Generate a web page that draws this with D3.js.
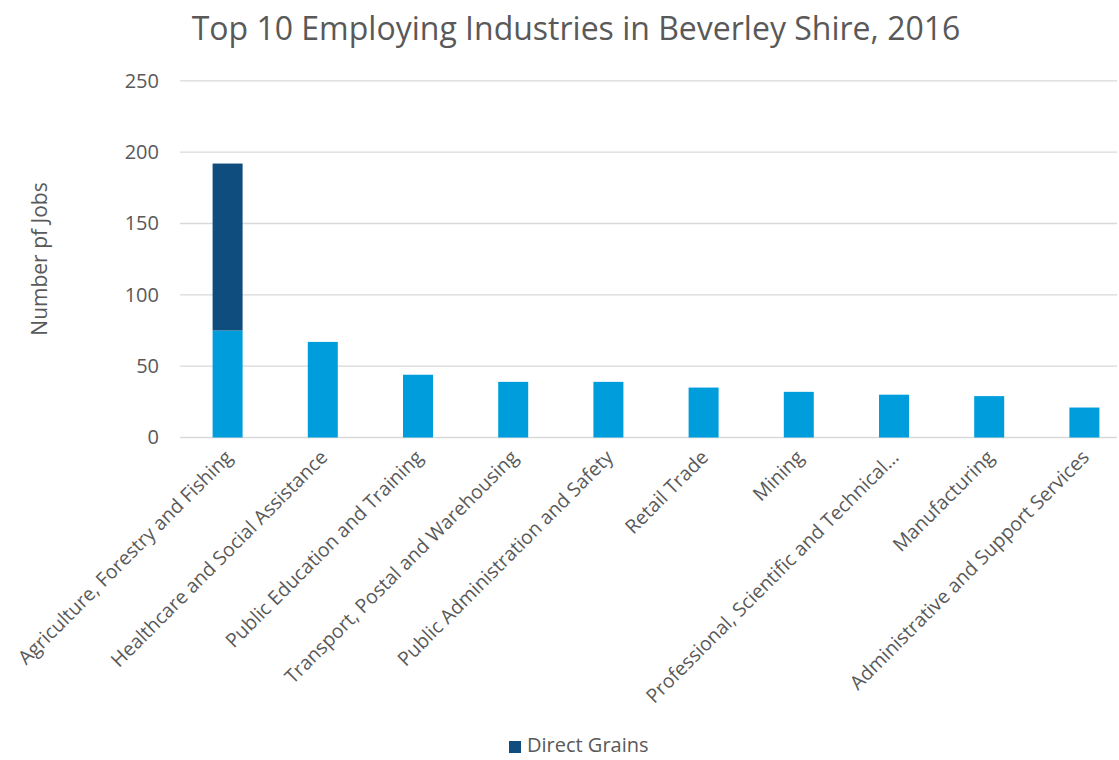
<!DOCTYPE html>
<html>
<head>
<meta charset="utf-8">
<script src="https://cdn.jsdelivr.net/npm/d3@7"></script>
<style>
  html, body { margin: 0; padding: 0; background: #fff; }
  svg { display: block; font-family: "Open Sans", "Noto Sans", sans-serif; }
</style>
</head>
<body>
<svg id="chart" width="1119" height="760"></svg>
<script>
// Industries, ordered by total employment
const industries = [
  "Agriculture, Forestry and Fishing",
  "Healthcare and Social Assistance",
  "Public Education and Training",
  "Transport, Postal and Warehousing",
  "Public Administration and Safety",
  "Retail Trade",
  "Mining",
  "Professional, Scientific and Technical\u2026",
  "Manufacturing",
  "Administrative and Support Services"
];
// Jobs by industry (base series)
const jobs = [75, 67, 44, 39, 39, 35, 32, 30, 29, 21];
// Additional jobs from Direct Grains, stacked on top
const directGrains = [117, 0, 0, 0, 0, 0, 0, 0, 0, 0];
const yTicks = [0, 50, 100, 150, 200, 250];

const svg = d3.select("#chart");
const textColor = "#595959";

const x = d3.scaleBand().domain(industries).range([180, 1132]).paddingInner(0.685).paddingOuter(0.3425);
const y = d3.scaleLinear().domain([0, 250]).range([437.5, 80.8]);

// Gridlines
svg.append("g")
  .selectAll("line")
  .data(yTicks)
  .join("line")
  .attr("x1", 180).attr("x2", 1117)
  .attr("y1", d => y(d)).attr("y2", d => y(d))
  .attr("stroke", "#d9d9d9").attr("stroke-width", 1.3);

// Y axis labels
const yAxis = d3.axisLeft(y).tickValues(yTicks).tickSize(0).tickPadding(0);
svg.append("g")
  .attr("transform", "translate(159,0)")
  .call(yAxis)
  .call(g => g.select(".domain").remove())
  .call(g => g.selectAll("text")
    .attr("fill", textColor)
    .attr("font-size", 20)
    .attr("font-family", "\"Open Sans\", sans-serif"));

// Stacked bars
const rows = industries.map((k, i) => ({ key: k, jobs: jobs[i], directGrains: directGrains[i] }));
const stack = d3.stack().keys(["jobs", "directGrains"])(rows);
const colors = { jobs: "#009ddc", directGrains: "#0e4d7e" };

svg.append("g")
  .selectAll("g")
  .data(stack)
  .join("g")
  .attr("fill", s => colors[s.key])
  .selectAll("rect")
  .data(s => s.filter(d => d[1] > d[0]))
  .join("rect")
  .attr("x", d => x(d.data.key))
  .attr("width", x.bandwidth())
  .attr("y", d => y(d[1]))
  .attr("height", d => y(d[0]) - y(d[1]));

// Category labels, rotated
const xAxis = d3.axisBottom(x).tickSize(0).tickPadding(0);
svg.append("g")
  .attr("transform", "translate(0,437.5)")
  .call(xAxis)
  .call(g => g.select(".domain").remove())
  .call(g => g.selectAll("text")
    .attr("fill", textColor)
    .attr("font-size", 19.5)
    .attr("font-family", "\"Open Sans\", sans-serif")
    .attr("text-anchor", "end")
    .attr("dy", null)
    .attr("y", 0)
    .attr("transform", "translate(6,21) rotate(-45)"));

// Title
svg.append("text")
  .attr("x", 576).attr("y", 40)
  .attr("text-anchor", "middle")
  .attr("fill", textColor)
  .attr("font-size", 32)
  .text("Top 10 Employing Industries in Beverley Shire, 2016");

// Y axis title
svg.append("text")
  .attr("transform", "translate(47,259) rotate(-90)")
  .attr("text-anchor", "middle")
  .attr("fill", textColor)
  .attr("font-size", 21)
  .text("Number pf Jobs");

// Legend
const legend = svg.append("g").attr("transform", "translate(509,741)");
legend.append("rect").attr("width", 12).attr("height", 12).attr("fill", colors.directGrains);
legend.append("text")
  .attr("x", 18).attr("y", 11)
  .attr("fill", textColor)
  .attr("font-size", 20)
  .text("Direct Grains");
</script>
</body>
</html>
